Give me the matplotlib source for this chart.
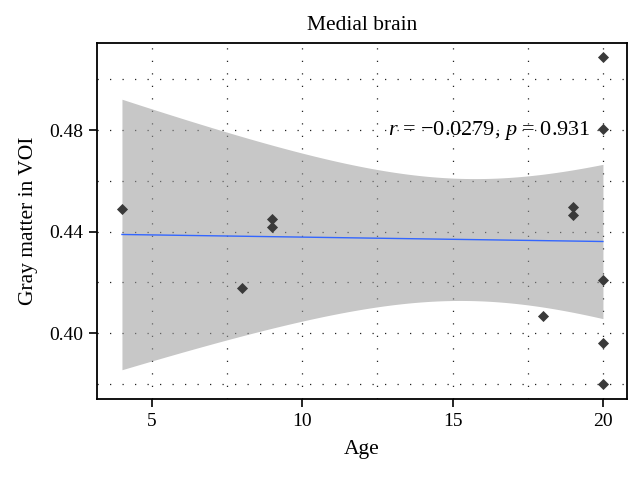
import numpy as np
import matplotlib
matplotlib.use("Agg")
import matplotlib.pyplot as plt
from matplotlib.ticker import MultipleLocator

age = [4, 8, 9, 9, 18, 19, 19, 20, 20, 20, 20, 20]
gray_matter = [0.449, 0.4177, 0.4449, 0.4418, 0.4068, 0.4496, 0.4466,
               0.5087, 0.4803, 0.4208, 0.3962, 0.3798]
title = "Medial brain"
xlabel = "Age"
ylabel = "Gray matter in VOI"
x_ticks = [5, 10, 15, 20]
y_ticks = [0.40, 0.44, 0.48]
annot = r"$r$ = −0.0279, $p$ = 0.931"

plt.rcParams['font.family'] = ['Liberation Serif', 'DejaVu Serif']
plt.rcParams['mathtext.fontset'] = 'custom'
plt.rcParams['mathtext.it'] = 'Liberation Serif:italic'
plt.rcParams['mathtext.rm'] = 'Liberation Serif'

x = np.array(age, float)
y = np.array(gray_matter, float)
n = len(x)
b1, b0 = np.polyfit(x, y, 1)
resid = y - (b0 + b1 * x)
s = np.sqrt(np.sum(resid ** 2) / (n - 2))
sxx = np.sum((x - x.mean()) ** 2)
tq = 2.228  # t(0.975, df=10)
xs = np.linspace(x.min(), x.max(), 200)
yh = b0 + b1 * xs
hw = tq * s * np.sqrt(1 / n + (xs - x.mean()) ** 2 / sxx)

fig = plt.figure(figsize=(6.42, 4.82), dpi=100)
ax = fig.add_axes([97 / 642, 1 - 399 / 482, (627 - 97) / 642, (399 - 43) / 482])

ax.set_xlim(3.17, 20.8)
ax.set_ylim(0.374, 0.5143)
ax.xaxis.set_major_locator(MultipleLocator(5))
ax.xaxis.set_minor_locator(MultipleLocator(2.5))
ax.set_yticks(y_ticks)
ax.yaxis.set_minor_locator(MultipleLocator(0.02))
ax.set_xticks(x_ticks)
ax.set_xticklabels([str(v) for v in x_ticks])
ax.set_yticklabels([f"{v:.2f}" for v in y_ticks])
ax.grid(True, which='both', color='#222222', linestyle=(0, (1, 9)), linewidth=0.9)
ax.set_axisbelow(True)
ax.tick_params(which='minor', length=0)
ax.tick_params(which='major', length=6, width=1.2, direction='out', labelsize=14,
               colors='black', pad=4)

ax.fill_between(xs, yh - hw, yh + hw, color='#999999', alpha=0.55, linewidth=0, zorder=2)
ax.plot(xs, yh, color='#3366FF', linewidth=1.0, zorder=3)
ax.scatter(x, y, marker='D', s=32, color='#3a3a3a', zorder=4, linewidths=0)

ax.text(19.6, 0.48, annot, ha='right', va='center', fontsize=16, zorder=5)

for sp in ax.spines.values():
    sp.set_linewidth(1.3)
    sp.set_color('black')

ax.set_title(title, fontsize=15.5, pad=9)
ax.set_xlabel(xlabel, fontsize=15.5, labelpad=7)
ax.set_ylabel(ylabel, fontsize=15.5, labelpad=8)

fig.savefig("out.png", dpi=100)
